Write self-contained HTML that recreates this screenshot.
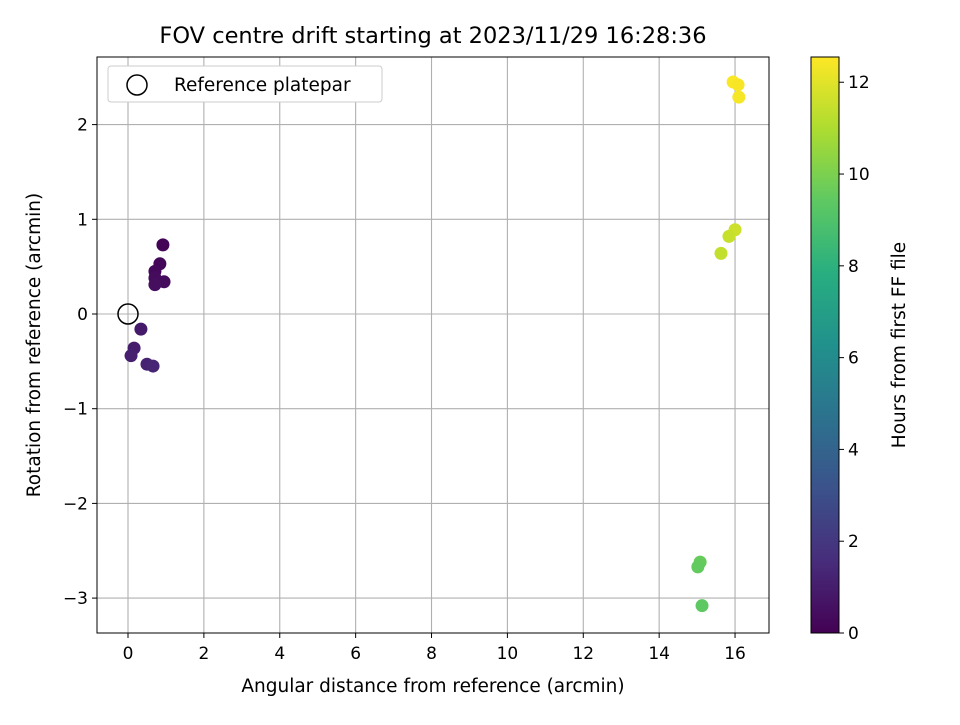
<!DOCTYPE html>
<html><head><meta charset="utf-8"><style>
body{margin:0;background:#fff;}
svg text{font-family:"DejaVu Sans","Liberation Sans",sans-serif;fill:#000;}
</style></head><body>
<svg id="chart" width="960" height="720" viewBox="0 0 960 720">
<defs>
<linearGradient id="vir" x1="0" y1="1" x2="0" y2="0">
<stop offset="0" stop-color="#440154"/><stop offset="0.125" stop-color="#472d7b"/><stop offset="0.25" stop-color="#3b528b"/><stop offset="0.375" stop-color="#2c728e"/><stop offset="0.5" stop-color="#21918c"/><stop offset="0.625" stop-color="#28ae80"/><stop offset="0.75" stop-color="#5ec962"/><stop offset="0.875" stop-color="#addc30"/><stop offset="1" stop-color="#fde725"/>
</linearGradient>
</defs>
<text x="433" y="43" font-size="22.5" text-anchor="middle">FOV centre drift starting at 2023/11/29 16:28:36</text>
<g id="grid"></g>
<g id="pts"></g>
<rect x="97" y="57" width="672" height="576" fill="none" stroke="#000" stroke-width="1"/>
<g id="ticks"></g>
<text x="433" y="692" font-size="18.5" text-anchor="middle">Angular distance from reference (arcmin)</text>
<text transform="translate(40,345) rotate(-90)" font-size="18.5" text-anchor="middle">Rotation from reference (arcmin)</text>
<g>
<rect x="108" y="66" width="274" height="36" rx="3" fill="#fff" stroke="#ccc"/>
<circle cx="137" cy="85" r="10" fill="none" stroke="#000" stroke-width="1.5"/>
<text x="174" y="91" font-size="18.5">Reference platepar</text>
</g>
<rect x="811" y="57" width="28" height="576" fill="url(#vir)" stroke="#000"/>
<g id="cbticks"></g>
<text transform="translate(905,345) rotate(-90)" font-size="18.5" text-anchor="middle">Hours from first FF file</text>
</svg>
<script>
const xs=[0.92,0.84,0.71,0.71,0.95,0.71,0.34,0.16,0.08,0.50,0.66,15.95,16.08,16.10,16.00,15.84,15.63,15.08,15.02,15.13];
const ys=[0.73,0.53,0.45,0.38,0.34,0.31,-0.16,-0.36,-0.44,-0.53,-0.55,2.45,2.42,2.29,0.89,0.82,0.64,-2.62,-2.67,-3.08];
const hours=[0.1,0.2,0.3,0.35,0.4,0.45,0.9,1.0,1.1,1.2,1.3,12.5,12.45,12.4,11.6,11.5,11.4,9.6,9.5,9.4];
const xTicks=[0,2,4,6,8,10,12,14,16];
const yTicks=[-3,-2,-1,0,1,2];
const cbTicks=[0,2,4,6,8,10,12];
const ns="http://www.w3.org/2000/svg";
const X=v=>128+v*37.94, Y=v=>314-v*94.7, vmax=12.55, CB=v=>633-v/vmax*576;
const vir=["#440154","#472d7b","#3b528b","#2c728e","#21918c","#28ae80","#5ec962","#addc30","#fde725"];
function hx(c){return [1,3,5].map(i=>parseInt(c.substr(i,2),16));}
function cmap(v){let t=Math.max(0,Math.min(1,v/vmax))*8,i=Math.min(7,Math.floor(t)),f=t-i,a=hx(vir[i]),b=hx(vir[i+1]);return "rgb("+a.map((x,k)=>Math.round(x+(b[k]-x)*f)).join(",")+")";}
function mk(p,tag,at){const e=document.createElementNS(ns,tag);for(const k in at)e.setAttribute(k,at[k]);p.appendChild(e);return e;}
const g=document.getElementById("grid"),tk=document.getElementById("ticks"),pts=document.getElementById("pts"),cb=document.getElementById("cbticks");
xTicks.forEach(v=>{const x=X(v);
const l=mk(g,"line",{x1:x,x2:x,y1:57,y2:633,stroke:"#b0b0b0","stroke-width":1.1});


mk(tk,"line",{x1:x,x2:x,y1:633,y2:638,stroke:"#000"});
const t=mk(tk,"text",{x:x,y:659,"font-size":17,"text-anchor":"middle"});t.textContent=v;

});
yTicks.forEach(v=>{const y=Y(v);
const l=mk(g,"line",{x1:97,x2:769,y1:y,y2:y,stroke:"#b0b0b0","stroke-width":1.1});


mk(tk,"line",{x1:92,x2:97,y1:y,y2:y,stroke:"#000"});
const t=mk(tk,"text",{x:88,y:y+6,"font-size":17,"text-anchor":"end"});t.textContent=v<0?"\u2212"+(-v):v;

});
xs.forEach((v,i)=>{const c=mk(pts,"circle",{cx:X(v),cy:Y(ys[i]),r:6.5,fill:cmap(hours[i])});

});
const ref=mk(pts,"circle",{cx:X(0),cy:Y(0),r:10,fill:"none",stroke:"#000","stroke-width":1.5});


cbTicks.forEach(v=>{const y=CB(v);
mk(cb,"line",{x1:839,x2:844,y1:y,y2:y,stroke:"#000"});
const t=mk(cb,"text",{x:848,y:y+6,"font-size":17});t.textContent=v;

});
</script>
</body></html>
